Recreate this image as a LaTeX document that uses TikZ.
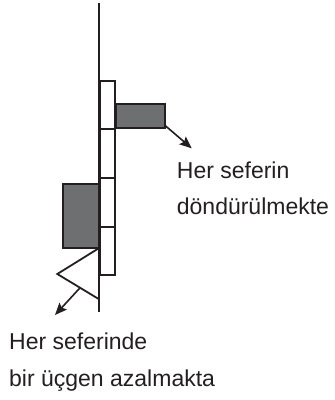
\documentclass[tikz,border=0pt]{standalone}
\usepackage{fontspec}
\setmainfont{Liberation Sans}
\usetikzlibrary{arrows.meta,calc}
\definecolor{boxgray}{RGB}{110,111,113}
\definecolor{ink}{RGB}{35,31,32}
\tikzset{
  every picture/.style={line width=1.8pt, draw=ink},
  cell/.style={draw=ink, fill=white, minimum width=15.3pt, minimum height=48.65pt, inner sep=0pt, outer sep=0pt},
  graybox/.style={draw=ink, fill=boxgray, inner sep=0pt, outer sep=0pt},
  lbl/.style={font=\fontsize{23}{36}\selectfont, text=ink, inner sep=0pt, anchor=base west},
  pointer/.style={draw=ink, line width=1.6pt, -{Stealth[length=12pt,width=10pt,inset=2pt]}}
}
\begin{document}
\begin{tikzpicture}[x=1pt,y=-1pt]
\useasboundingbox (0,0) rectangle (335,400);
% axis line
\coordinate (top) at (98.7,2.5);
\coordinate (bot) at (98.7,311.7);
\draw[draw=ink] (top) -- (bot);
% column of cells
\node[cell] (c1) at (107.7,105.0) {};
\node[cell] (c2) at (107.7,153.7) {};
\node[cell] (c3) at (107.7,202.3) {};
\node[cell] (c4) at (107.7,251.0) {};
% gray boxes
\node[graybox, minimum width=49pt, minimum height=24.3pt] (g1) at (140.5,116.2) {};
\node[graybox, minimum width=35.4pt, minimum height=64pt] (g2) at (81,216.3) {};
% triangle
\coordinate (t1) at (98.7,248.3);
\coordinate (t2) at (57.3,274);
\coordinate (t3) at (98.7,299);
\draw[draw=ink, line join=miter] (t1) -- (t2) -- (t3);
\coordinate (ts) at ($(t2)!0.55!(t3)$);
% labels
\node[lbl] (l1a) at (176,178.3) {Her seferin};
\node[lbl] (l1b) at (176,214.3) {döndürülmekte};
\node[lbl] (l2a) at (8.3,349.3) {Her seferinde};
\node[lbl] (l2b) at (8.3,386.7) {bir üçgen azalmakta};
% pointers
\coordinate (p1) at (191.7,148.3);
\coordinate (p2) at (55,315);
\draw[pointer] ([xshift=0.5pt,yshift=2.5pt]g1.south east) -- (p1);
\draw[pointer] (ts) -- (p2);
\end{tikzpicture}
\end{document}
